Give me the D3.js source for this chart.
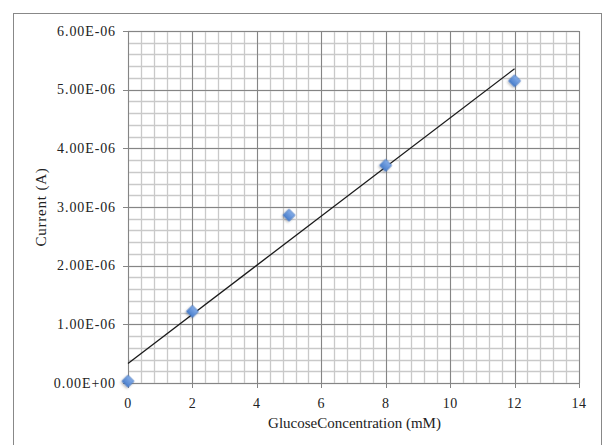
<!doctype html>
<head>
<style>
  body { margin: 0; background: #fff; }
</style>
<script src="https://cdnjs.cloudflare.com/ajax/libs/d3/7.8.5/d3.min.js"></script>
</head>
<body>
<script>
// glucose concentration (mM) vs current (A)
var concentration = [0, 2, 5, 8, 12];
var current = [0.03e-6, 1.22e-6, 2.86e-6, 3.71e-6, 5.15e-6];
var xTicks = [0, 2, 4, 6, 8, 10, 12, 14];
var yTicks = [0, 1e-6, 2e-6, 3e-6, 4e-6, 5e-6, 6e-6];
var yTickLabels = ["0.00E+00", "1.00E-06", "2.00E-06", "3.00E-06", "4.00E-06", "5.00E-06", "6.00E-06"];

var W = 605, H = 445;
var pLeft = 128, pRight = 579, pTop = 31, pBottom = 383;
var FONT = "'Liberation Serif', 'DejaVu Serif', serif";

var svg = d3.select("body").append("svg")
  .attr("width", W)
  .attr("height", H)
  .attr("font-family", FONT);

// outer frame
svg.append("rect")
  .attr("x", 13.5).attr("y", 13.5)
  .attr("width", 588).attr("height", 440)
  .attr("fill", "none")
  .attr("stroke", "#888")
  .attr("stroke-width", 1);

var x = d3.scaleLinear().domain([0, 14]).range([pLeft, pRight]);
var y = d3.scaleLinear().domain([0, 6e-6]).range([pBottom, pTop]);

// minor grid
var minorX = d3.range(0, 36).map(function(i) { return +(i * 0.4).toFixed(1); });
var minorY = d3.range(0, 31).map(function(i) { return i * 0.2e-6; });

svg.append("g").selectAll("line")
  .data(minorX).enter().append("line")
  .attr("x1", function(d) { return Math.round(x(d)) + 0.5; })
  .attr("x2", function(d) { return Math.round(x(d)) + 0.5; })
  .attr("y1", pTop).attr("y2", pBottom)
  .attr("stroke", "#c9c9c9").attr("stroke-width", 1.3);

svg.append("g").selectAll("line")
  .data(minorY).enter().append("line")
  .attr("y1", function(d) { return Math.round(y(d)) + 0.5; })
  .attr("y2", function(d) { return Math.round(y(d)) + 0.5; })
  .attr("x1", pLeft).attr("x2", pRight)
  .attr("stroke", "#c9c9c9").attr("stroke-width", 1.3);

// major grid + ticks
svg.append("g").selectAll("line")
  .data(xTicks).enter().append("line")
  .attr("x1", function(d) { return Math.round(x(d)) + 0.5; })
  .attr("x2", function(d) { return Math.round(x(d)) + 0.5; })
  .attr("y1", pTop).attr("y2", pBottom + 5)
  .attr("stroke", "#858585").attr("stroke-width", 1);

svg.append("g").selectAll("line")
  .data(yTicks).enter().append("line")
  .attr("y1", function(d) { return Math.round(y(d)) + 0.5; })
  .attr("y2", function(d) { return Math.round(y(d)) + 0.5; })
  .attr("x1", pLeft - 5).attr("x2", pRight)
  .attr("stroke", "#858585").attr("stroke-width", 1);

// tick labels
svg.append("g").selectAll("text")
  .data(xTicks).enter().append("text")
  .attr("x", function(d) { return x(d); })
  .attr("y", pBottom + 25)
  .attr("text-anchor", "middle")
  .attr("font-size", 14)
  .attr("letter-spacing", 0.5)
  .attr("fill", "#222")
  .text(function(d) { return d; });

svg.append("g").selectAll("text")
  .data(yTicks).enter().append("text")
  .attr("x", pLeft - 12)
  .attr("y", function(d) { return y(d) + 4.5; })
  .attr("text-anchor", "end")
  .attr("font-size", 14)
  .attr("letter-spacing", 0.9)
  .attr("fill", "#222")
  .text(function(d, i) { return yTickLabels[i]; });

// axis titles
svg.append("text")
  .attr("x", (pLeft + pRight) / 2 + 1)
  .attr("y", 428)
  .attr("text-anchor", "middle")
  .attr("font-size", 15)
  .attr("fill", "#222")
  .text("GlucoseConcentration (mM)");

svg.append("text")
  .attr("transform", "translate(46," + ((pTop + pBottom) / 2) + ") rotate(-90)")
  .attr("text-anchor", "middle")
  .attr("font-size", 15)
  .attr("letter-spacing", 0.8)
  .attr("fill", "#222")
  .text("Current (A)");

// linear trendline (least squares through the points)
var mx = d3.mean(concentration), my = d3.mean(current);
var sxy = d3.sum(concentration, function(c, i) { return (c - mx) * (current[i] - my); });
var sxx = d3.sum(concentration, function(c) { return (c - mx) * (c - mx); });
var slope = sxy / sxx, icpt = my - slope * mx;
var x0 = d3.min(concentration), x1 = d3.max(concentration);

svg.append("line")
  .attr("x1", x(x0)).attr("y1", y(icpt + slope * x0))
  .attr("x2", x(x1)).attr("y2", y(icpt + slope * x1))
  .attr("stroke", "#1a1a1a").attr("stroke-width", 1.3);

// markers
var defs = svg.append("defs");
var grad = defs.append("linearGradient").attr("id", "mk")
  .attr("x1", "0").attr("y1", "0").attr("x2", "0").attr("y2", "1");
grad.append("stop").attr("offset", "0%").attr("stop-color", "#86aee9");
grad.append("stop").attr("offset", "100%").attr("stop-color", "#4a7fcc");
var flt = defs.append("filter").attr("id", "sh").attr("x", "-50%").attr("y", "-50%").attr("width", "200%").attr("height", "200%");
flt.append("feDropShadow").attr("dx", 0).attr("dy", 1.5).attr("stdDeviation", 1.2).attr("flood-color", "#000").attr("flood-opacity", 0.3);

var sym = d3.symbol().type(d3.symbolSquare).size(72);
svg.append("g").selectAll("path")
  .data(concentration).enter().append("path")
  .attr("d", sym)
  .attr("transform", function(d, i) { return "translate(" + x(d) + "," + y(current[i]) + ") rotate(45)"; })
  .attr("fill", "url(#mk)")
  .attr("stroke", "#4272bd")
  .attr("stroke-width", 0.6)
  .attr("filter", "url(#sh)");
</script>
</body>
